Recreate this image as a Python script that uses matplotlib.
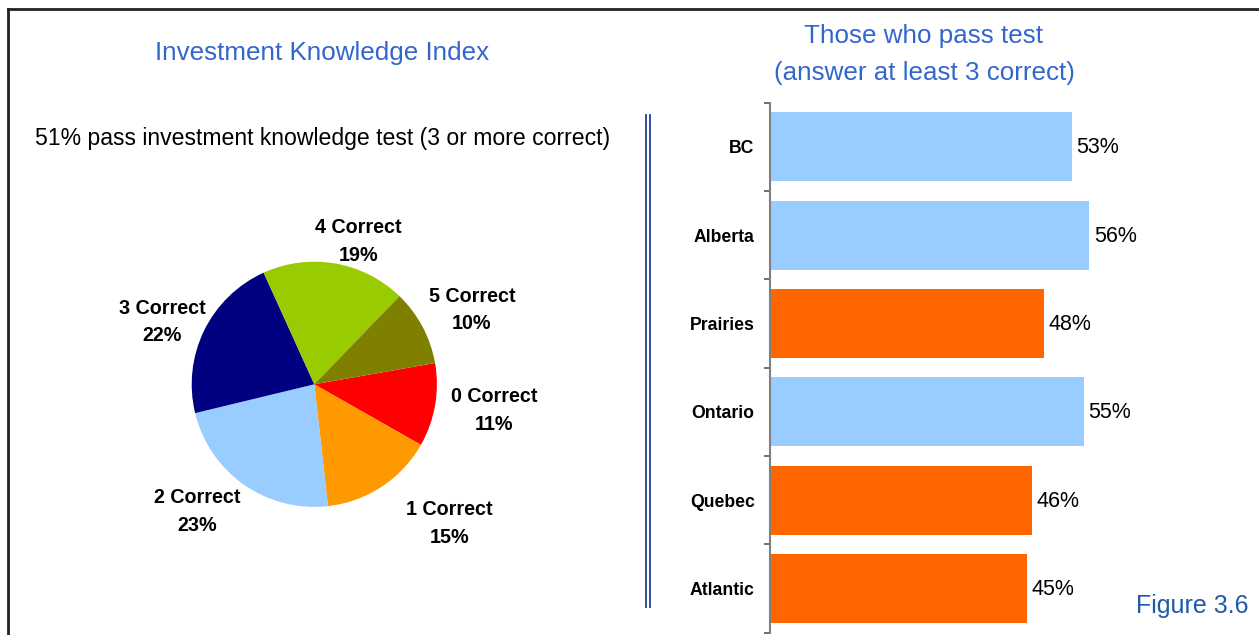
import numpy as np
import matplotlib
matplotlib.use('Agg')
import matplotlib.pyplot as plt
from matplotlib.lines import Line2D

# data
pie_labels = ['0 Correct', '1 Correct', '2 Correct', '3 Correct', '4 Correct', '5 Correct']
pie_values = [11, 15, 23, 22, 19, 10]
pie_colors = ['#FF0000', '#FF9900', '#99CCFF', '#000080', '#99CC00', '#808000']

regions = ['BC', 'Alberta', 'Prairies', 'Ontario', 'Quebec', 'Atlantic']
pass_pct = [53, 56, 48, 55, 46, 45]
bar_colors = ['#99CCFF', '#99CCFF', '#FF6600', '#99CCFF', '#FF6600', '#FF6600']

plt.rcParams['font.family'] = ['Liberation Sans', 'DejaVu Sans']

W, H = 1259, 635
fig = plt.figure(figsize=(W / 100, H / 100), dpi=100)


def px_rect(x0, y0, x1, y1):
    # pixel box (top-left origin) -> figure fraction rect
    return [x0 / W, 1 - y1 / H, (x1 - x0) / W, (y1 - y0) / H]


# ---- pie ----
cx, cy, r = 314.3, 384.3, 122.6
ax_pie = fig.add_axes(px_rect(cx - r, cy - r, cx + r, cy + r))
wedges, _ = ax_pie.pie(pie_values, colors=pie_colors, startangle=10, counterclock=False,
                       radius=1, wedgeprops=dict(linewidth=0))
ax_pie.set_xlim(-1, 1)
ax_pie.set_ylim(-1, 1)
ax_pie.set_aspect('equal')
ax_pie.axis('off')

# label placement tweaks (distance in radii, angle nudge in degrees)
lab_dist = [1.48, 1.58, 1.41, 1.34, 1.22, 1.42]
lab_nudge = [1.5, 10.7, -7.6, 3.6, -7.5, -2.8]
for w, lab, v, d, n in zip(wedges, pie_labels, pie_values, lab_dist, lab_nudge):
    ang = np.deg2rad((w.theta1 + w.theta2) / 2 + n)
    ax_pie.text(d * np.cos(ang), d * np.sin(ang), f'{lab}\n{v}%', ha='center', va='center',
                fontsize=14.2, fontweight='bold', linespacing=1.55, clip_on=False)

# ---- bars ----
ax_bar = fig.add_axes(px_rect(770, 102.7, 1226, 632.7))
y = np.arange(len(regions))
ax_bar.barh(y, pass_pct, height=0.78, color=bar_colors)
ax_bar.set_ylim(len(regions) - 0.5, -0.5)
ax_bar.set_xlim(0, 80)
for yi, v in zip(y, pass_pct):
    ax_bar.text(v + 0.8, yi + 0.01, f'{v}%', ha='left', va='center', fontsize=15.5)
ax_bar.set_yticks(y)
ax_bar.set_yticklabels(regions, fontweight='bold', fontsize=12.7)
ax_bar.set_yticks(np.arange(-0.5, len(regions)), minor=True)
ax_bar.tick_params(axis='y', which='major', length=0, pad=11)
ax_bar.tick_params(axis='y', which='minor', length=4, width=1.2, color='#555555')
ax_bar.set_xticks([])
for s in ['top', 'right', 'bottom']:
    ax_bar.spines[s].set_visible(False)
ax_bar.spines['left'].set_color('#808080')
ax_bar.spines['left'].set_linewidth(1.5)

# ---- texts ----
title_blue = '#3366CC'
fig.text(322 / W, 1 - 53 / H, 'Investment Knowledge Index', ha='center', va='center',
         fontsize=18.7, color=title_blue)
fig.text(323 / W, 1 - 138 / H, '51% pass investment knowledge test (3 or more correct)',
         ha='center', va='center', fontsize=16.6)
fig.text(924 / W, 1 - 36 / H, 'Those who pass test', ha='center', va='center',
         fontsize=18.7, color=title_blue)
fig.text(924 / W, 1 - 73 / H, '(answer at least 3 correct)', ha='center', va='center',
         fontsize=18.7, color=title_blue)
fig.text(1192 / W, 1 - 606 / H, 'Figure 3.6', ha='center', va='center',
         fontsize=18, color='#1F5BAA')

# divider (double line) and frame
for xp in [646, 650]:
    fig.add_artist(Line2D([xp / W, xp / W], [1 - 115 / H, 1 - 607 / H],
                          color='#1F3F99', linewidth=1.3))
fig.add_artist(Line2D([8 / W, 1], [1 - 9 / H, 1 - 9 / H], color='#222222', linewidth=2))
fig.add_artist(Line2D([8 / W, 8 / W], [1 - 9 / H, 0], color='#222222', linewidth=2))

fig.savefig('out.png', dpi=100, facecolor='white')
